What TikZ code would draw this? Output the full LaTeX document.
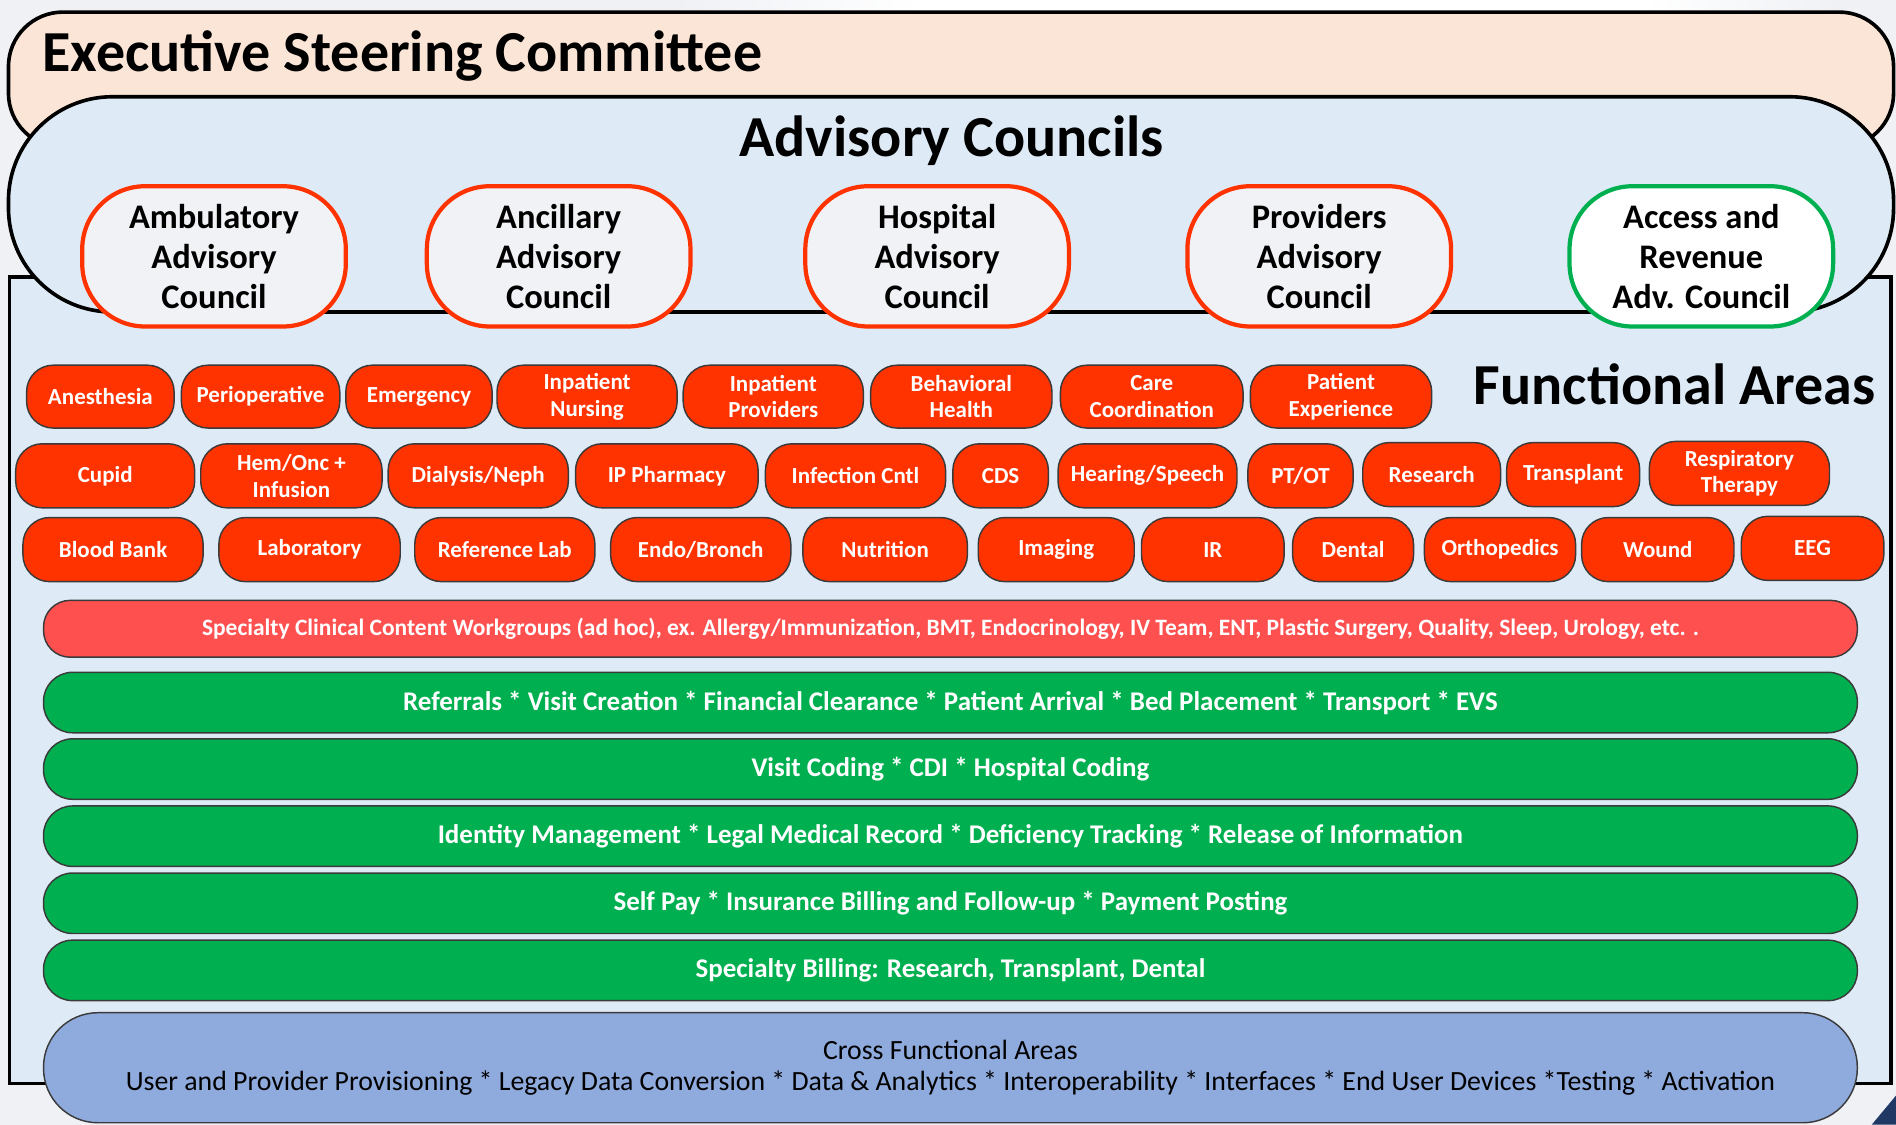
\documentclass[tikz,border=0pt]{standalone}
\usepackage{fontspec}
\setmainfont{Carlito}
\definecolor{bgc}{HTML}{EFF1F5}
\definecolor{peach}{HTML}{FBE5D6}
\definecolor{lblue}{HTML}{DEEBF7}
\definecolor{pillred}{HTML}{FF3300}
\definecolor{barred}{HTML}{FF5050}
\definecolor{bargreen}{HTML}{00B050}
\definecolor{barblue}{HTML}{8FAADC}
\definecolor{council}{HTML}{F1F2F6}
\definecolor{cred}{HTML}{FF3300}
\definecolor{cgreen}{HTML}{00B050}
\definecolor{edge}{HTML}{3A3A3A}
\definecolor{navy}{HTML}{1F3864}
\tikzset{
  bigshape/.style={draw=black, line width=3pt},
  title/.style={font=\fontsize{48}{52}\selectfont\bfseries, text=black, inner sep=0pt},
  councilbox/.style={draw=cred, line width=3.5pt, fill=council, rounded corners=52pt,
    minimum width=218pt, minimum height=116pt, align=center,
    font=\fontsize{28.5}{33}\selectfont\bfseries, inner sep=0pt},
  pill/.style={draw=edge, line width=1.2pt, fill=pillred, rounded corners=22pt,
    align=center, text=white, inner sep=0pt,
    font=\fontsize{19}{22}\selectfont\bfseries},
  bar/.style={draw=edge, line width=1.2pt, minimum width=1500pt, inner sep=0pt,
    text=white, font=\fontsize{22.3}{26}\selectfont\bfseries},
}
\newcommand{\fa}[6]{\node[pill, minimum width={(#3-#2)*1pt}, minimum height={(#5-#4)*1pt}]
  (#1) at ({(#2+#3)/2},{(#4+#5)/2}) {#6};}
\begin{document}
\begin{tikzpicture}[x=1pt,y=-1pt]
\useasboundingbox (0,0) rectangle (1568,930);
\fill[bgc] (0,0) rectangle (1568,930);
\shade[left color=bgc, right color=white] (560,0) rectangle (760,10);
\fill[white] (760,0) rectangle (1360,10);
\shade[left color=white, right color=bgc] (1360,0) rectangle (1520,10);
% functional areas frame
\draw[bigshape, fill=lblue] (8,229) rectangle (1564,896);
% executive steering committee band
\draw[bigshape, fill=peach, rounded corners=45pt] (7,10) rectangle (1566,122);
% advisory councils band
\draw[bigshape, fill=lblue, rounded corners=86pt] (7,80) rectangle (1566,258);
% corner piece
\fill[navy] (1548,930) -- (1568,906) -- (1568,930) -- cycle;
\node[title, anchor=west] (esc) at (35,46) {Executive Steering Committee};
\node[title] (adv) at (787,116) {Advisory Councils};
\node[title] (fun) at (1385,318) {Functional Areas};
% councils
\node[councilbox] (c1) at (177,212) {Ambulatory\\Advisory\\Council};
\node[councilbox] (c2) at (462,212) {Ancillary\\Advisory\\Council};
\node[councilbox] (c3) at (775,212) {Hospital\\Advisory\\Council};
\node[councilbox] (c4) at (1091,212) {Providers\\Advisory\\Council};
\node[councilbox, draw=cgreen, fill=white] (c5) at (1407,212) {Access and\\Revenue\\Adv. Council};
% row 1
\fa{a1}{22}{144}{302}{354}{Anesthesia}
\fa{a2}{150}{281}{302}{354}{Perioperative}
\fa{a3}{286}{407}{302}{354}{Emergency}
\fa{a4}{411}{560}{302}{354}{Inpatient\\Nursing}
\fa{a5}{565}{714}{302}{354}{Inpatient\\Providers}
\fa{a6}{720}{870}{302}{354}{Behavioral\\Health}
\fa{a7}{877}{1028}{302}{354}{Care\\Coordination}
\fa{a8}{1034}{1184}{302}{354}{Patient\\Experience}
% row 2
\fa{b1}{13}{161}{367}{420}{Cupid}
\fa{b2}{166}{316}{367}{420}{Hem/Onc +\\Infusion}
\fa{b3}{321}{470}{367}{420}{Dialysis/Neph}
\fa{b4}{476}{627}{367}{420}{IP Pharmacy}
\fa{b5}{633}{782}{367}{420}{Infection Cntl}
\fa{b6}{788}{867}{367}{420}{CDS}
\fa{b7}{875}{1023}{367}{420}{Hearing/Speech}
\fa{b8}{1032}{1119}{367}{420}{PT/OT}
\fa{b9}{1127}{1241}{366}{419}{Research}
\fa{b10}{1246}{1356}{366}{419}{Transplant}
\fa{b11}{1364}{1513}{365}{418}{Respiratory\\Therapy}
% row 3
\fa{d1}{19}{168}{428}{481}{Blood Bank}
\fa{d2}{181}{331}{428}{481}{Laboratory}
\fa{d3}{343}{492}{428}{481}{Reference Lab}
\fa{d4}{505}{654}{428}{481}{Endo/Bronch}
\fa{d5}{664}{800}{428}{481}{Nutrition}
\fa{d6}{809}{938}{428}{481}{Imaging}
\fa{d7}{944}{1062}{428}{481}{IR}
\fa{d8}{1069}{1169}{428}{481}{Dental}
\fa{d9}{1178}{1303}{428}{481}{Orthopedics}
\fa{d10}{1308}{1434}{428}{481}{Wound}
\fa{d11}{1440}{1558}{427}{480}{EEG}
% bars
\node[bar, fill=barred, rounded corners=22pt, minimum height=47pt, font=\fontsize{19.4}{22}\selectfont\bfseries] (sc) at (786,520)
  {Specialty Clinical Content Workgroups (ad hoc), ex. Allergy/Immunization, BMT, Endocrinology, IV Team, ENT, Plastic Surgery, Quality, Sleep, Urology, etc. .};
\node[bar, fill=bargreen, rounded corners=24pt, minimum height=50pt] (g1) at (786,581)
  {Referrals * Visit Creation * Financial Clearance * Patient Arrival * Bed Placement * Transport * EVS};
\node[bar, fill=bargreen, rounded corners=24pt, minimum height=50pt] (g2) at (786,636)
  {Visit Coding * CDI * Hospital Coding};
\node[bar, fill=bargreen, rounded corners=24pt, minimum height=50pt] (g3) at (786,691.5)
  {Identity Management * Legal Medical Record * Deficiency Tracking * Release of Information};
\node[bar, fill=bargreen, rounded corners=24pt, minimum height=50pt] (g4) at (786,747)
  {Self Pay * Insurance Billing and Follow-up * Payment Posting};
\node[bar, fill=bargreen, rounded corners=24pt, minimum height=50pt] (g5) at (786,802.5)
  {Specialty Billing: Research, Transplant, Dental};
\node[bar, fill=barblue, rounded corners=45pt, minimum height=91pt, text=black, align=center,
  font=\fontsize{23}{26}\selectfont] (cf) at (786,883)
  {Cross Functional Areas\\User and Provider Provisioning * Legacy Data Conversion * Data \& Analytics * Interoperability * Interfaces * End User Devices *Testing * Activation};
\end{tikzpicture}
\end{document}
